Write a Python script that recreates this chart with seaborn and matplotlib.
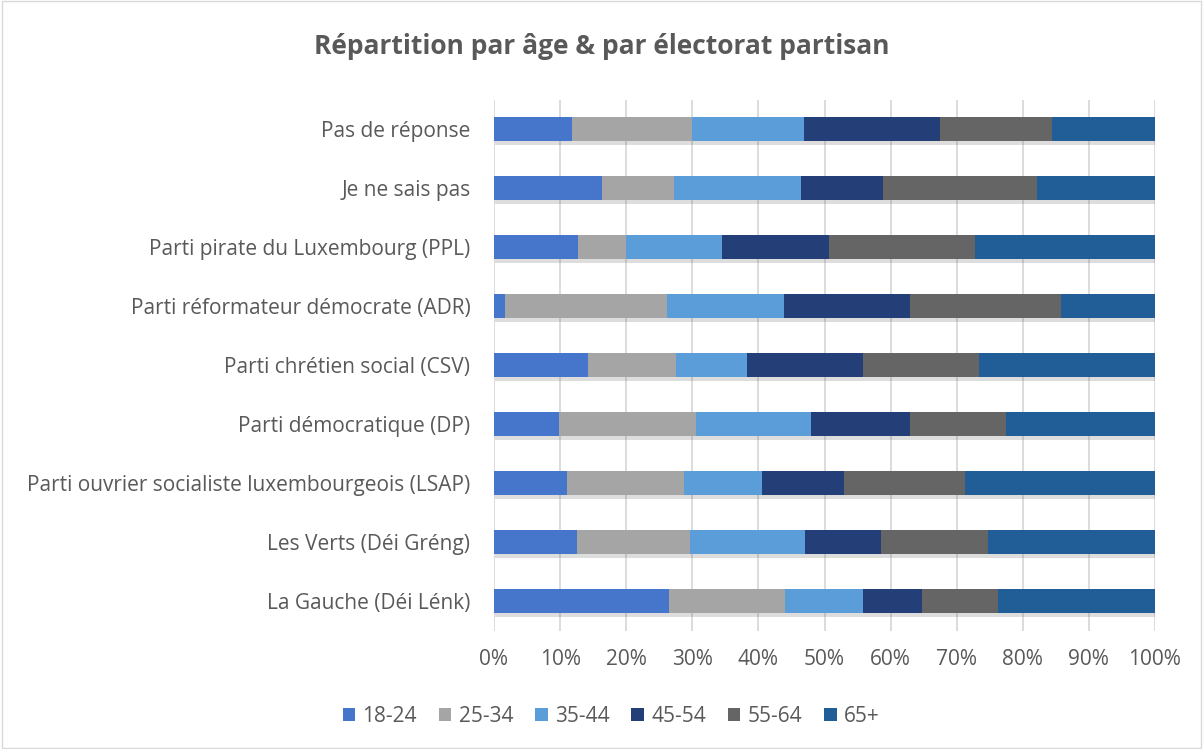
import numpy as np
import pandas as pd
import seaborn as sns
import matplotlib.pyplot as plt
import matplotlib.patheffects as pe
from matplotlib.patches import Patch

sns.set_style("white")
plt.rcParams['font.family'] = ['Open Sans', 'DejaVu Sans']

parties = [
    "Pas de réponse",
    "Je ne sais pas",
    "Parti pirate du Luxembourg (PPL)",
    "Parti réformateur démocrate (ADR)",
    "Parti chrétien social (CSV)",
    "Parti démocratique (DP)",
    "Parti ouvrier socialiste luxembourgeois (LSAP)",
    "Les Verts (Déi Gréng)",
    "La Gauche (Déi Lénk)",
]
age_groups = ["18-24", "25-34", "35-44", "45-54", "55-64", "65+"]

# shares in %, one list per age group, same order as parties
s_18_24 = [11.8, 16.3, 12.7, 1.6, 14.2, 9.9, 11.0, 12.5, 26.4]
s_25_34 = [18.1, 11.0, 7.2, 24.6, 13.4, 20.6, 17.7, 17.2, 17.6]
s_35_44 = [17.0, 19.2, 14.6, 17.6, 10.7, 17.5, 11.8, 17.3, 11.8]
s_45_54 = [20.5, 12.3, 16.2, 19.2, 17.5, 15.0, 12.4, 11.5, 8.9]
s_55_64 = [17.0, 23.3, 22.0, 22.8, 17.6, 14.4, 18.3, 16.2, 11.6]
s_65_plus = [15.6, 17.9, 27.3, 14.2, 26.6, 22.6, 28.8, 25.3, 23.7]

colors = ["#4675cc", "#a5a5a5", "#5a9dd9", "#243f78", "#656565", "#215d96"]

df = pd.DataFrame({"party": parties})
series = [s_18_24, s_25_34, s_35_44, s_45_54, s_55_64, s_65_plus]
for name, vals in zip(age_groups, series):
    df[name] = vals
cum = df[age_groups].cumsum(axis=1)
cum = cum.div(cum[age_groups[-1]], axis=0) * 100

fig = plt.figure(figsize=(12.03, 7.49), dpi=100)
ax = fig.add_axes([494 / 1203, 1 - 630.5 / 749, 661 / 1203, 531 / 749])

text_col = "#595959"
fs = 15
# draw from the longest cumulative bar to the shortest so each sits on top
for i in range(len(age_groups) - 1, -1, -1):
    name = age_groups[i]
    sns.barplot(x=cum[name], y=df["party"], color=colors[i], orient="h",
                width=0.41, ax=ax, saturation=1, linewidth=0, zorder=3)
    if i == len(age_groups) - 1:
        for p in ax.patches:
            p.set_path_effects([pe.SimplePatchShadow(offset=(1, -3), alpha=0.2,
                                                     shadow_rgbFace="#555555"),
                                pe.Normal()])

ax.set_xlim(0, 100)
ax.set_ylim(8.5, -0.5)
ax.set_xticks(np.arange(0, 101, 10))
ax.set_xticklabels([f"{v}%" for v in range(0, 101, 10)])
ax.xaxis.grid(True, color="#d9d9d9", linewidth=1.3, zorder=0)
ax.set_axisbelow(True)
ax.set_xlabel("")
ax.set_ylabel("")
for s in ax.spines.values():
    s.set_visible(False)
ax.tick_params(axis="both", length=0, labelsize=fs, colors=text_col)
ax.tick_params(axis="y", pad=17)
ax.tick_params(axis="x", pad=13)

handles = [Patch(facecolor=c, edgecolor="none") for c in colors]
leg = fig.legend(handles, age_groups,
                 loc="center", bbox_to_anchor=(0.508, 1 - 716 / 749), ncol=6,
                 frameon=False, fontsize=fs, handlelength=0.6, handleheight=0.6,
                 handletextpad=0.35, columnspacing=1.05)
for t in leg.get_texts():
    t.set_color(text_col)

fig.text(0.5, 1 - 47 / 749, "Répartition par âge & par électorat partisan",
         ha="center", va="center", fontsize=19, fontweight="bold", color=text_col)

border = plt.Rectangle((0.002, 0.002), 0.996, 0.996, transform=fig.transFigure,
                       fill=False, edgecolor="#d9d9d9", linewidth=1)
fig.patches.append(border)

fig.savefig("out.png", dpi=100)
